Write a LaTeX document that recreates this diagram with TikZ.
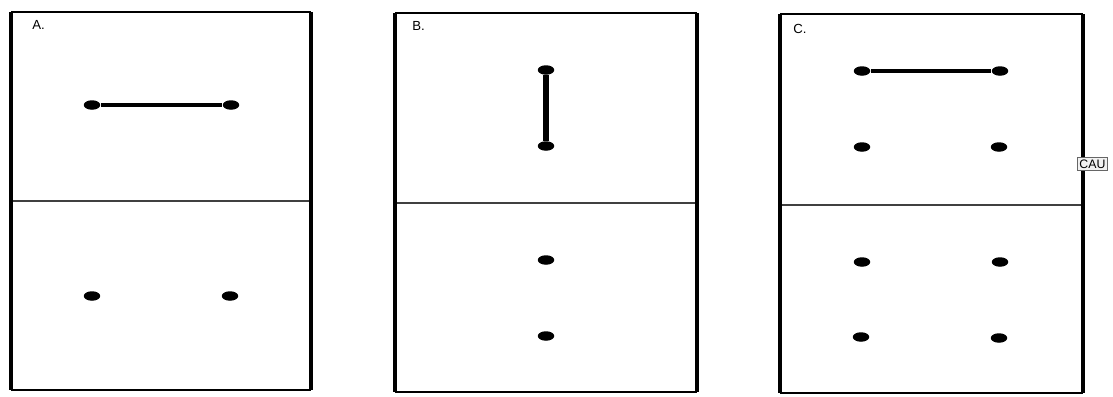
\documentclass[tikz,border=0pt]{standalone}
\usepackage{fontspec}
\setmainfont{Liberation Sans}
\usetikzlibrary{shapes.geometric}

\tikzset{
    dot/.style={ellipse, fill=black, inner sep=0pt, minimum width=0.33cm, minimum height=0.19cm},
    link/.style={line width=2.2pt},
    tag/.style={anchor=west, inner sep=0pt, font=\fontsize{7.5}{8}\selectfont}
}

\begin{document}
\begin{tikzpicture}[x=0.02cm, y=-0.02cm]
    \useasboundingbox[fill=white] (0,0) rectangle (1113,396);

    % Panel frames (left, right, top, bottom, divider)
    \foreach \xl/\xr/\yt/\yd/\yb in {11/311/12/201/390, 395/697/13/203/392, 780/1083/14/205/393} {
        \draw[line width=1.1pt] (\xl,\yt) -- (\xr,\yt);
        \draw[line width=1.3pt] (\xl,\yb) -- (\xr,\yb);
        \draw[line width=1pt, black!75] (\xl,\yd) -- (\xr,\yd);
        \draw[line width=1.9pt] (\xl,\yt) -- (\xl,\yb);
        \draw[line width=1.9pt] (\xr,\yt) -- (\xr,\yb);
    }

    % Panel labels
    \node[tag] (labA) at (32,25) {A.};
    \node[tag] (labB) at (412,26) {B.};
    \node[tag] (labC) at (793,29) {C.};

    % Panel A
    \node[dot] (a1) at (92,105) {};
    \node[dot] (a2) at (231,105) {};
    \node[dot] (a3) at (92,296) {};
    \node[dot] (a4) at (230,296) {};
    \draw[link] (a1) -- (a2);

    % Panel B
    \node[dot] (b1) at (546,70) {};
    \node[dot] (b2) at (546,146) {};
    \node[dot] (b3) at (546,260) {};
    \node[dot] (b4) at (546,336) {};
    \draw[line width=3pt] (b1) -- (b2);

    % Panel C
    \node[dot] (c1) at (862,71) {};
    \node[dot] (c2) at (1000,71) {};
    \node[dot] (c3) at (862,147) {};
    \node[dot] (c4) at (999,147) {};
    \node[dot] (c5) at (862,262) {};
    \node[dot] (c6) at (1000,262) {};
    \node[dot] (c7) at (861,337) {};
    \node[dot] (c8) at (999,338) {};
    \draw[link] (c1) -- (c2);

    % Clipped side tag
    \node[tag, draw=black!60, fill=black!5, line width=0.4pt, inner sep=1.2pt, font=\fontsize{7}{8}\selectfont] (cau) at (1077,164) {CAU};
\end{tikzpicture}
\end{document}
